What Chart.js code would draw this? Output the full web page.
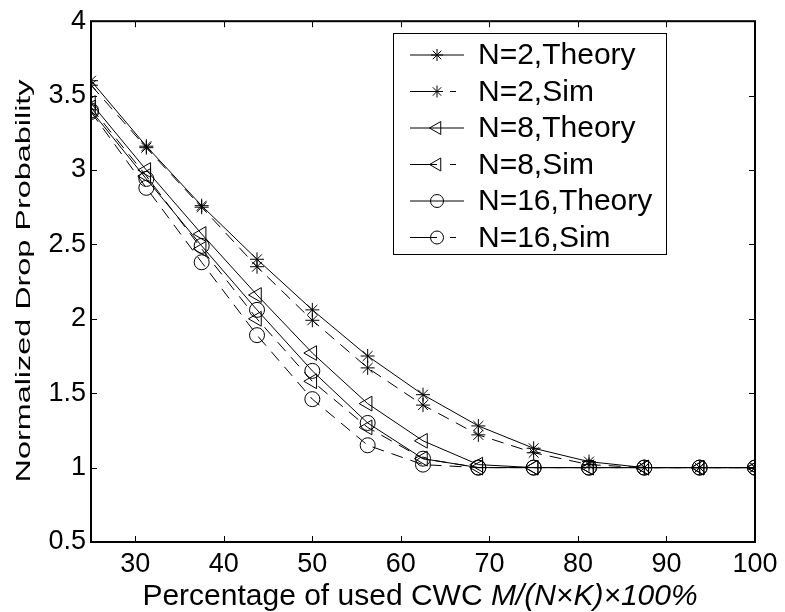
<!DOCTYPE html>
<html>
<head>
<meta charset="utf-8">
<script src="https://cdn.jsdelivr.net/npm/chart.js@4.4.0/dist/chart.umd.min.js"></script>
<style>
  html, body { margin: 0; padding: 0; background: #fff; }
  #wrap { width: 785px; height: 612px; }
</style>
</head>
<body>
<div id="wrap"><canvas id="graf" width="785" height="612"></canvas></div>
<script>
// hodnoty
const xValues = [25, 31.25, 37.5, 43.75, 50, 56.25, 62.5, 68.75, 75, 81.25, 87.5, 93.75, 100];
const n2Theory = [3.60, 3.16, 2.76, 2.40, 2.06, 1.75, 1.49, 1.28, 1.13, 1.04, 1.00, 1.00, 1.00];
const n2Sim = [3.57, 3.15, 2.75, 2.35, 1.99, 1.67, 1.42, 1.22, 1.10, 1.02, 1.00, 1.00, 1.00];
const n8Theory = [3.45, 3.00, 2.57, 2.16, 1.77, 1.43, 1.18, 1.02, 1.00, 1.00, 1.00, 1.00, 1.00];
const n8Sim = [3.42, 2.96, 2.47, 2.00, 1.58, 1.27, 1.06, 1.00, 1.00, 1.00, 1.00, 1.00, 1.00];
const n16Theory = [3.40, 2.94, 2.49, 2.06, 1.65, 1.30, 1.06, 1.00, 1.00, 1.00, 1.00, 1.00, 1.00];
const n16Sim = [3.39, 2.88, 2.38, 1.89, 1.46, 1.15, 1.02, 1.00, 1.00, 1.00, 1.00, 1.00, 1.00];

const seriesLabels = ["N=2,Theory", "N=2,Sim", "N=8,Theory", "N=8,Sim", "N=16,Theory", "N=16,Sim"];
const xTicks = [30, 40, 50, 60, 70, 80, 90, 100];
const yTicks = [0.5, 1, 1.5, 2, 2.5, 3, 3.5, 4];

const xTitleNormal = "Percentage of used CWC ";
const xTitleItalic = "M/(N\u00D7K)\u00D7100%";
const yTitle = "Normalized Drop Probability";

const font = "'Liberation Sans', Arial, sans-serif";

function toPoints(ys) {
  return ys.map((y, i) => ({ x: xValues[i], y: y }));
}

function makeDataset(label, ys, style, rotation, radius, dashed) {
  return {
    label: label,
    data: toPoints(ys),
    borderColor: "#000",
    borderWidth: 1,
    borderDash: dashed ? [12, 8] : [],
    pointStyle: style,
    rotation: rotation,
    pointRadius: radius,
    pointBorderWidth: 1,
    pointBorderColor: "#000",
    pointBackgroundColor: "rgba(0,0,0,0)",
    pointHoverRadius: radius,
    tension: 0,
    fill: false
  };
}

const datasets = [
  makeDataset(seriesLabels[0], n2Theory, "star", 0, 7, false),
  makeDataset(seriesLabels[1], n2Sim, "star", 0, 7, true),
  makeDataset(seriesLabels[2], n8Theory, "triangle", -90, 8.5, false),
  makeDataset(seriesLabels[3], n8Sim, "triangle", -90, 8.5, true),
  makeDataset(seriesLabels[4], n16Theory, "circle", 0, 7.5, false),
  makeDataset(seriesLabels[5], n16Sim, "circle", 0, 7.5, true)
];

// rámeček, vnitřní tiky, titulky os a legenda
const ramecek = {
  id: "ramecek",
  afterDraw(chart) {
    const ctx = chart.ctx;
    const a = chart.chartArea;
    const sx = chart.scales.x;
    const sy = chart.scales.y;
    ctx.save();
    ctx.strokeStyle = "#000";
    ctx.lineWidth = 1;
    ctx.beginPath();
    xTicks.forEach(t => {
      const px = Math.round(sx.getPixelForValue(t)) + 0.5;
      ctx.moveTo(px, a.bottom); ctx.lineTo(px, a.bottom - 6);
      ctx.moveTo(px, a.top); ctx.lineTo(px, a.top + 6);
    });
    yTicks.forEach(t => {
      const py = Math.round(sy.getPixelForValue(t)) + 0.5;
      ctx.moveTo(a.left, py); ctx.lineTo(a.left + 6, py);
      ctx.moveTo(a.right, py); ctx.lineTo(a.right - 6, py);
    });
    ctx.stroke();
    ctx.lineWidth = 2;
    ctx.strokeRect(a.left, a.top, a.right - a.left, a.bottom - a.top);

    // x titulek: normální + kurzíva
    ctx.fillStyle = "#000";
    ctx.textBaseline = "middle";
    ctx.textAlign = "left";
    ctx.font = "30px " + font;
    const w1 = ctx.measureText(xTitleNormal).width;
    ctx.font = "italic 30px " + font;
    const w2 = ctx.measureText(xTitleItalic).width;
    let startX = 420 - (w1 + w2) / 2;
    ctx.font = "30px " + font;
    ctx.fillText(xTitleNormal, startX, 597);
    ctx.font = "italic 30px " + font;
    ctx.fillText(xTitleItalic, startX + w1, 597);

    // y titulek (natažený jako v originále)
    ctx.save();
    ctx.translate(24, 281);
    ctx.rotate(-Math.PI / 2);
    ctx.font = "20px " + font;
    const wy = ctx.measureText(yTitle).width;
    ctx.scale(403 / wy, 1);
    ctx.textAlign = "center";
    ctx.fillText(yTitle, 0, 0);
    ctx.restore();

    // legenda
    const lx = 393, ly = 33, lw = 273, lh = 221;
    ctx.fillStyle = "#fff";
    ctx.fillRect(lx, ly, lw, lh);
    ctx.lineWidth = 1;
    ctx.strokeStyle = "#000";
    ctx.strokeRect(lx + 0.5, ly + 0.5, lw, lh);
    chart.data.datasets.forEach((ds, i) => {
      const y = 55 + i * 36.5;
      ctx.save();
      ctx.strokeStyle = "#000";
      ctx.lineWidth = 1;
      ctx.beginPath();
      if (ds.borderDash.length) {
        ctx.moveTo(410, y); ctx.lineTo(437, y);
        ctx.moveTo(450, y); ctx.lineTo(456, y);
      } else {
        ctx.moveTo(410, y); ctx.lineTo(464, y);
      }
      ctx.stroke();
      ctx.fillStyle = "rgba(0,0,0,0)";
      Chart.helpers.drawPoint(ctx, {
        pointStyle: ds.pointStyle,
        rotation: ds.rotation,
        radius: ds.pointRadius - 1,
        borderWidth: 1
      }, 437, y);
      ctx.restore();
      ctx.fillStyle = "#000";
      ctx.font = "30px " + font;
      ctx.textAlign = "left";
      ctx.textBaseline = "middle";
      ctx.fillText(ds.label, 478, y + 1);
    });
    ctx.restore();
  }
};

new Chart(document.getElementById("graf"), {
  type: "line",
  data: { datasets: datasets },
  options: {
    responsive: false,
    animation: false,
    layout: { padding: { top: 19, right: 30, left: 0, bottom: 0 } },
    plugins: {
      legend: { display: false },
      tooltip: { enabled: false }
    },
    scales: {
      x: {
        type: "linear",
        min: 25,
        max: 100,
        afterBuildTicks: scale => { scale.ticks = xTicks.map(v => ({ value: v })); },
        afterFit: scale => { scale.height = 70; },
        grid: { display: false, drawTicks: false },
        border: { display: false },
        ticks: { color: "#000", font: { family: font, size: 27 }, padding: 6, maxRotation: 0, autoSkip: false }
      },
      y: {
        type: "linear",
        min: 0.5,
        max: 4,
        afterBuildTicks: scale => { scale.ticks = yTicks.map(v => ({ value: v })); },
        afterFit: scale => { scale.width = 91; },
        grid: { display: false, drawTicks: false },
        border: { display: false },
        ticks: { color: "#000", font: { family: font, size: 27 }, padding: 5, callback: v => String(v) }
      }
    }
  },
  plugins: [ramecek]
});
</script>
</body>
</html>
